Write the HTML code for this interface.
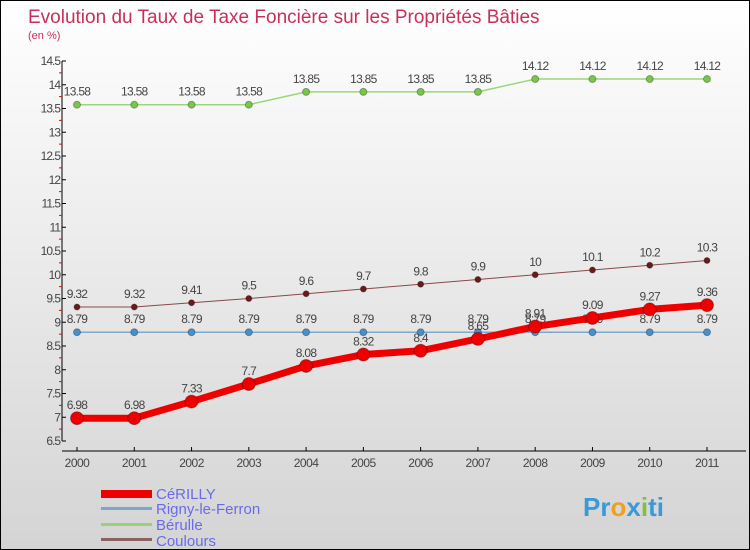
<!DOCTYPE html>
<html><head><meta charset="utf-8"><style>
body{margin:0}
#c{width:750px;height:550px;position:relative;overflow:hidden;box-sizing:border-box;border:1px solid #000;background:linear-gradient(#ffffff,#d4d4d4);font-family:"Liberation Sans",sans-serif}
</style></head><body>
<div id="c">
<svg id="s" width="750" height="550" style="position:absolute;left:0;top:0">
<text x="27" y="22" font-size="19" fill="#c8305a">Evolution du Taux de Taxe Foncière sur les Propriétés Bâties</text>
<text x="27" y="38" font-size="11" fill="#c8305a">(en %)</text>
<g id="axes"></g><g id="series"></g>
<g>
<rect x="100" y="489" width="51" height="8" fill="#e00"/>
<text x="155" y="498" font-size="15" fill="#6a6aee">CéRILLY</text>
<rect x="100" y="506" width="51" height="3" fill="#7aa8c8"/>
<text x="155" y="513" font-size="15" fill="#6a6aee">Rigny-le-Ferron</text>
<rect x="100" y="522" width="51" height="3" fill="#98d080"/>
<text x="155" y="529" font-size="15" fill="#6a6aee">Bérulle</text>
<rect x="100" y="537" width="51" height="3" fill="#8a6060"/>
<text x="155" y="545" font-size="15" fill="#6a6aee">Coulours</text>
</g>
<text x="582" y="515" font-size="26" font-weight="bold" fill="#3a9ad8">Pr<tspan fill="#f0a020">o</tspan>x<tspan fill="#80c040">i</tspan>ti</text>
</svg>
</div>
<script>
const years=[2000,2001,2002,2003,2004,2005,2006,2007,2008,2009,2010,2011];
const cerilly=[6.98,6.98,7.33,7.7,8.08,8.32,8.4,8.65,8.91,9.09,9.27,9.36];
const rigny=[8.79,8.79,8.79,8.79,8.79,8.79,8.79,8.79,8.79,8.79,8.79,8.79];
const berulle=[13.58,13.58,13.58,13.58,13.85,13.85,13.85,13.85,14.12,14.12,14.12,14.12];
const coulours=[9.32,9.32,9.41,9.5,9.6,9.7,9.8,9.9,10,10.1,10.2,10.3];
const yTicks=[6.5,7,7.5,8,8.5,9,9.5,10,10.5,11,11.5,12,12.5,13,13.5,14,14.5];
const NS='http://www.w3.org/2000/svg';
const X=i=>76+i*(630/11);
const Y=v=>440-(v-6.5)*47.5;
function mk(t,a,p){const e=document.createElementNS(NS,t);for(const k in a)e.setAttribute(k,a[k]);p.appendChild(e);return e;}
const ax=document.getElementById('axes'),sr=document.getElementById('series');
let l=mk('line',{x1:61,y1:60,x2:61,y2:440,stroke:'#000'},ax);


l=mk('line',{x1:61,y1:450,x2:745,y2:450,stroke:'#000'},ax);


yTicks.forEach((v,k)=>{
 mk('line',{x1:61,y1:Y(v),x2:65,y2:Y(v),stroke:'#000'},ax);
 if(k<yTicks.length-1) mk('line',{x1:58,y1:Y(v+0.25),x2:61,y2:Y(v+0.25),stroke:'#e00'},ax);
 const t=mk('text',{x:59,y:Y(v)+4,'font-size':12,'text-anchor':'end',fill:'#444','letter-spacing':'-1'},ax);
 t.textContent=v;
 
 
});
years.forEach((y,i)=>{
 mk('line',{x1:X(i),y1:446,x2:X(i),y2:450,stroke:'#000'},ax);
 const t=mk('text',{x:X(i),y:466,'font-size':12,'text-anchor':'middle',fill:'#444','letter-spacing':'-0.5'},ax);
 t.textContent=y;
 
 
});
function series(d,col,w,r,name,dot){
 const p=mk('polyline',{points:d.map((v,i)=>X(i)+','+Y(v)).join(' '),fill:'none',stroke:col,'stroke-width':w,'stroke-linejoin':'round'},sr);
 
 
 d.forEach((v,i)=>{
  const c=mk('circle',{cx:X(i),cy:Y(v),r:r,fill:dot,stroke:'rgba(0,0,0,0.3)'},sr);
  
  
  const t=mk('text',{x:X(i),y:Y(v)-9,'font-size':12,'text-anchor':'middle',fill:'#444','letter-spacing':'-0.7'},sr);
  t.textContent=v;
  
  
 });
}
series(berulle,'#98d878',1.5,3.5,'berulle','#78c848');
series(coulours,'#8a4848',1,3,'coulours','#6a1a1a');
series(rigny,'#80a8c8',1.5,3.5,'rigny','#4a90c8');
series(cerilly,'#ee0000',7,6.5,'cerilly','#ee0000');
</script>
</body></html>
